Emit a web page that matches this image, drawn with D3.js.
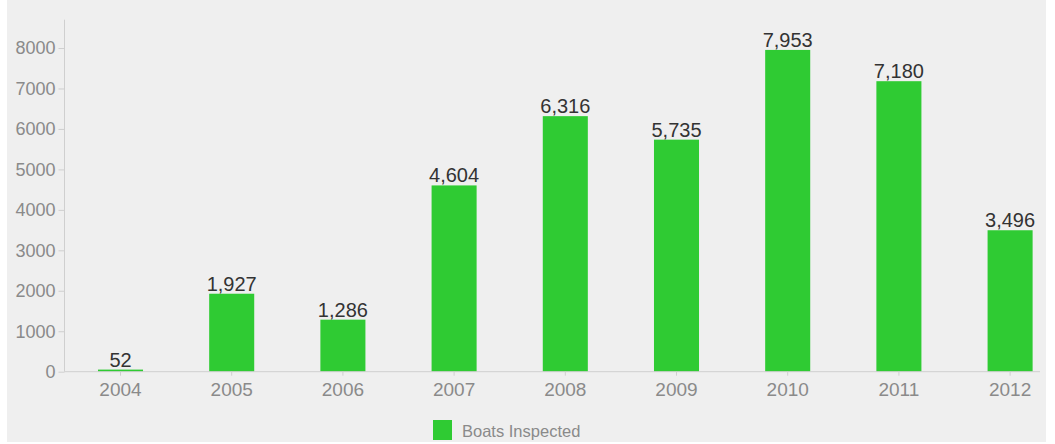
<!DOCTYPE html>
<html>
<head>
<meta charset="utf-8">
<script src="https://cdn.jsdelivr.net/npm/d3@7"></script>
<style>
  html, body { margin: 0; padding: 0; background: #ffffff; }
  svg { display: block; }
  text { font-family: "Liberation Sans", Arial, Helvetica, sans-serif; }
</style>
</head>
<body>
<svg id="chart" width="1055" height="444"></svg>
<script>
const years = ["2004", "2005", "2006", "2007", "2008", "2009", "2010", "2011", "2012"];
const boatsInspected = [52, 1927, 1286, 4604, 6316, 5735, 7953, 7180, 3496];
const yTicks = [0, 1000, 2000, 3000, 4000, 5000, 6000, 7000, 8000];
const seriesName = "Boats Inspected";
const barColor = "#2fcb33";

const svg = d3.select("#chart");

// panel background
svg.append("rect").attr("x", 7).attr("y", 0).attr("width", 1039).attr("height", 442).attr("fill", "#efefef");

const y0 = 371.7;
const y = d3.scaleLinear().domain([0, 8700]).range([y0, y0 - 8700 * 0.04046]);
const x = d3.scaleBand().domain(years).range([64.9, 1065.7]).paddingInner(0.595).paddingOuter(0.2975);

// y axis
const yAxis = svg.append("g").attr("transform", "translate(64.5,0)")
  .call(d3.axisLeft(y).tickValues(yTicks).tickFormat(d3.format("d")).tickSize(6).tickPadding(3));
yAxis.select(".domain").attr("stroke", "#cfcfcf").attr("d", `M0,${y(8700)}V${y0}`);
yAxis.selectAll(".tick line").attr("stroke", "#cfcfcf");
yAxis.selectAll(".tick text").attr("fill", "#8a8a8a").style("font-size", "18px");

// bars
svg.append("g").selectAll("rect").data(years).join("rect")
  .attr("x", (d) => x(d))
  .attr("width", x.bandwidth())
  .attr("y", (d, i) => y(boatsInspected[i]))
  .attr("height", (d, i) => y(0) - y(boatsInspected[i]))
  .attr("fill", barColor);

// x axis
const xAxis = svg.append("g").attr("transform", `translate(0,${y0})`)
  .call(d3.axisBottom(x).tickSize(4).tickPadding(7));
xAxis.select(".domain").attr("stroke", "#cfcfcf").attr("d", "M64.5,0H1040");
xAxis.selectAll(".tick line").attr("stroke", "#cfcfcf");
xAxis.selectAll(".tick text").attr("fill", "#8a8a8a").style("font-size", "19px");

// value labels
const fmt = d3.format(",");
svg.append("g").selectAll("text").data(years).join("text")
  .attr("x", (d) => x(d) + x.bandwidth() / 2)
  .attr("y", (d, i) => y(boatsInspected[i]) - 3)
  .attr("text-anchor", "middle")
  .attr("fill", "#333333")
  .style("font-size", "20px")
  .text((d, i) => fmt(boatsInspected[i]));

// legend
const legend = svg.append("g").attr("transform", "translate(433,420)");
legend.append("rect").attr("width", 19).attr("height", 20).attr("fill", barColor);
legend.append("text").attr("x", 29).attr("y", 16.5).attr("fill", "#8a8a8a")
  .style("font-size", "16.5px").text(seriesName);
</script>
</body>
</html>
